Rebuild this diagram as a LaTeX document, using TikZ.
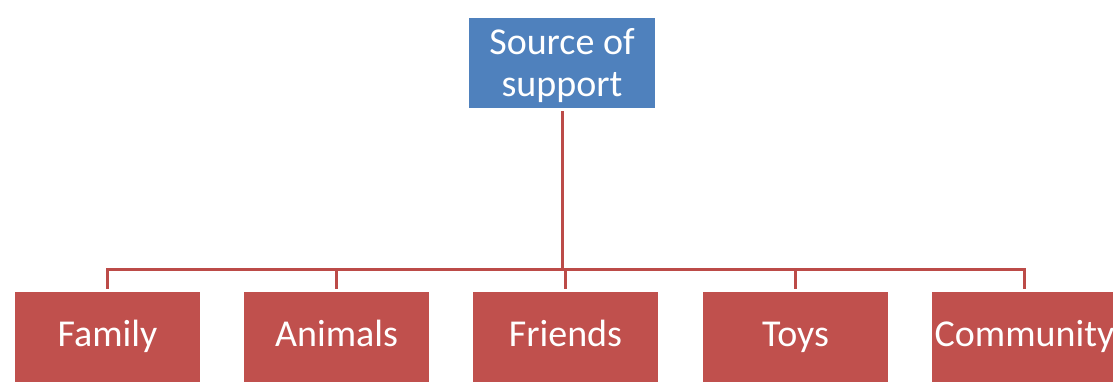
\documentclass[tikz,border=0pt]{standalone}
\usepackage{fontspec}
\setmainfont{Carlito}
\usetikzlibrary{shadows,backgrounds}
\definecolor{topblue}{HTML}{4F81BD}
\definecolor{boxred}{HTML}{C0504D}
\definecolor{linkred}{HTML}{BC4B48}
\tikzset{
  x=1pt, y=-1pt,
  orgbox/.style={draw=white, line width=2.5pt, minimum width=188pt, minimum height=93pt,
    inner sep=0pt, text=white, align=center,
    font=\fontsize{38}{42}\selectfont,
    drop shadow={shadow xshift=0.8pt, shadow yshift=-1.2pt, fill=black!35, opacity=0.5}},
  rootbox/.style={orgbox, fill=topblue, text depth=1pt},
  leafbox/.style={orgbox, fill=boxred, text height=27pt, text depth=9pt},
  link/.style={draw=linkred, line width=3pt}
}
\begin{document}
\begin{tikzpicture}
  \useasboundingbox (0,0) rectangle (1113,381);

  % root
  \node[rootbox] (root) at (562,63) {Source of\\support};

  % leaves
  \node[leafbox] (family)    at (107.5,337)  {Family};
  \node[leafbox] (animals)   at (336.5,337)  {Animals};
  \node[leafbox] (friends)   at (565.5,337)  {Friends};
  \node[leafbox] (toys)      at (795.5,337)  {Toys};
  \node[leafbox] (community) at (1024.5,337) {Community};

  % bus level of the tree connector
  \coordinate (bus) at (562,269);

  \begin{pgfonlayer}{background}
    \fill[white] (0,0) rectangle (1113,381);
    \foreach \leaf in {family,animals,friends,toys,community}
      \draw[link] (root.south) -- (root.south |- bus) -| (\leaf.north);
  \end{pgfonlayer}
\end{tikzpicture}
\end{document}
